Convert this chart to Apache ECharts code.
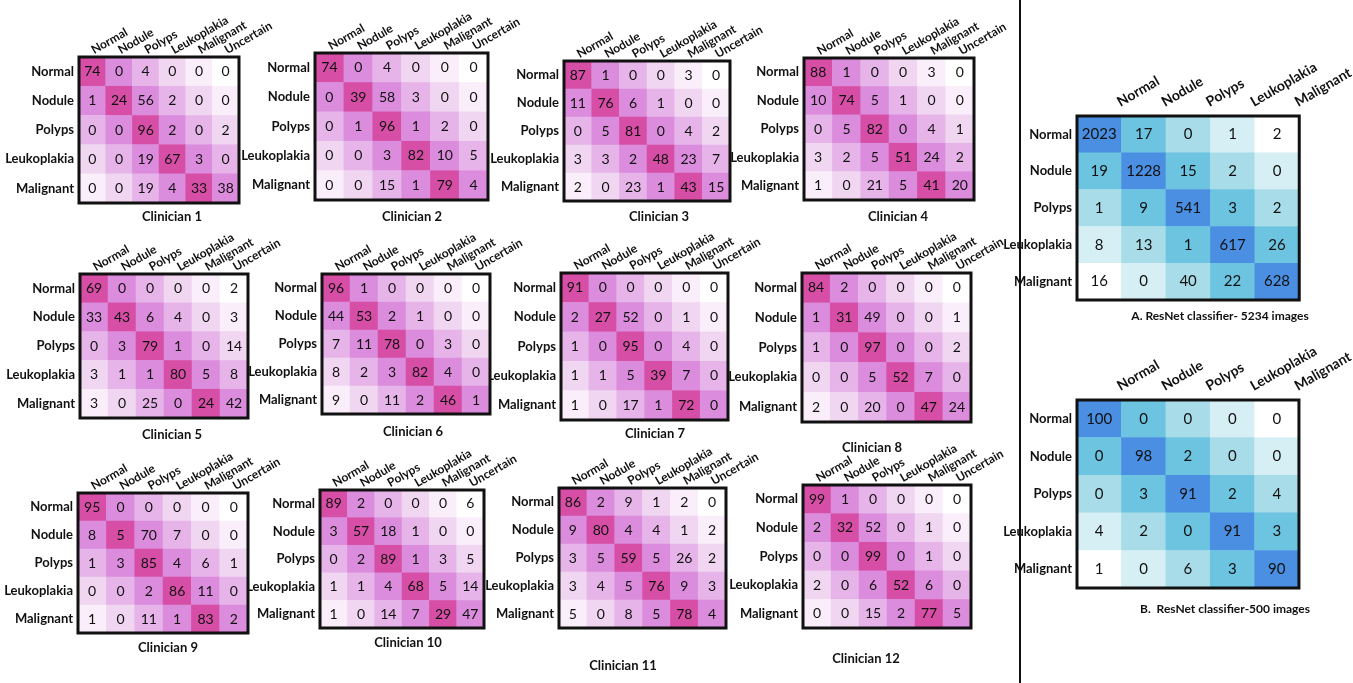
<!DOCTYPE html>
<html>
<head>
<meta charset="utf-8">
<script src="https://cdn.jsdelivr.net/npm/echarts@6/dist/echarts.min.js"></script>
<style>
  html, body { margin: 0; padding: 0; background: #fff; }
  #chart { width: 1353px; height: 683px; }
</style>
</head>
<body>
<div id="chart"></div>
<script>
// class labels
const classes5 = ["Normal", "Nodule", "Polyps", "Leukoplakia", "Malignant"];
const classes6 = ["Normal", "Nodule", "Polyps", "Leukoplakia", "Malignant", "Uncertain"];

// clinician confusion matrices (rows = true class, cols = prediction)
const clinician1 = [[74, 0, 4, 0, 0, 0], [1, 24, 56, 2, 0, 0], [0, 0, 96, 2, 0, 2], [0, 0, 19, 67, 3, 0], [0, 0, 19, 4, 33, 38]];
const clinician2 = [[74, 0, 4, 0, 0, 0], [0, 39, 58, 3, 0, 0], [0, 1, 96, 1, 2, 0], [0, 0, 3, 82, 10, 5], [0, 0, 15, 1, 79, 4]];
const clinician3 = [[87, 1, 0, 0, 3, 0], [11, 76, 6, 1, 0, 0], [0, 5, 81, 0, 4, 2], [3, 3, 2, 48, 23, 7], [2, 0, 23, 1, 43, 15]];
const clinician4 = [[88, 1, 0, 0, 3, 0], [10, 74, 5, 1, 0, 0], [0, 5, 82, 0, 4, 1], [3, 2, 5, 51, 24, 2], [1, 0, 21, 5, 41, 20]];
const clinician5 = [[69, 0, 0, 0, 0, 2], [33, 43, 6, 4, 0, 3], [0, 3, 79, 1, 0, 14], [3, 1, 1, 80, 5, 8], [3, 0, 25, 0, 24, 42]];
const clinician6 = [[96, 1, 0, 0, 0, 0], [44, 53, 2, 1, 0, 0], [7, 11, 78, 0, 3, 0], [8, 2, 3, 82, 4, 0], [9, 0, 11, 2, 46, 1]];
const clinician7 = [[91, 0, 0, 0, 0, 0], [2, 27, 52, 0, 1, 0], [1, 0, 95, 0, 4, 0], [1, 1, 5, 39, 7, 0], [1, 0, 17, 1, 72, 0]];
const clinician8 = [[84, 2, 0, 0, 0, 0], [1, 31, 49, 0, 0, 1], [1, 0, 97, 0, 0, 2], [0, 0, 5, 52, 7, 0], [2, 0, 20, 0, 47, 24]];
const clinician9 = [[95, 0, 0, 0, 0, 0], [8, 5, 70, 7, 0, 0], [1, 3, 85, 4, 6, 1], [0, 0, 2, 86, 11, 0], [1, 0, 11, 1, 83, 2]];
const clinician10 = [[89, 2, 0, 0, 0, 6], [3, 57, 18, 1, 0, 0], [0, 2, 89, 1, 3, 5], [1, 1, 4, 68, 5, 14], [1, 0, 14, 7, 29, 47]];
const clinician11 = [[86, 2, 9, 1, 2, 0], [9, 80, 4, 4, 1, 2], [3, 5, 59, 5, 26, 2], [3, 4, 5, 76, 9, 3], [5, 0, 8, 5, 78, 4]];
const clinician12 = [[99, 1, 0, 0, 0, 0], [2, 32, 52, 0, 1, 0], [0, 0, 99, 0, 1, 0], [2, 0, 6, 52, 6, 0], [0, 0, 15, 2, 77, 5]];

// ResNet classifier matrices
const resnet5234 = [[2023, 17, 0, 1, 2], [19, 1228, 15, 2, 0], [1, 9, 541, 3, 2], [8, 13, 1, 617, 26], [16, 0, 40, 22, 628]];
const resnet500 = [[100, 0, 0, 0, 0], [0, 98, 2, 0, 0], [0, 3, 91, 2, 4], [4, 2, 0, 91, 3], [1, 0, 6, 3, 90]];

const titles = [
  "Clinician 1", "Clinician 2", "Clinician 3", "Clinician 4",
  "Clinician 5", "Clinician 6", "Clinician 7", "Clinician 8",
  "Clinician 9", "Clinician 10", "Clinician 11", "Clinician 12",
  "A. ResNet classifier- 5234 images", "B.  ResNet classifier-500 images",
];
const matrices = [
  clinician1, clinician2, clinician3, clinician4,
  clinician5, clinician6, clinician7, clinician8,
  clinician9, clinician10, clinician11, clinician12,
  resnet5234, resnet500,
];

// layout: grid box [left, top, width, height] and title centre [x, y]
const layout = [
  { box: [79, 57, 160, 146], title: [167, 213] },
  { box: [315, 53, 173, 147], title: [407, 213] },
  { box: [564, 61, 166, 140], title: [654, 213] },
  { box: [804, 58, 170, 142], title: [893, 213] },
  { box: [80, 274, 168, 144], title: [167, 431] },
  { box: [322, 274, 168, 140], title: [408, 428] },
  { box: [561, 273, 167, 147], title: [650, 430] },
  { box: [802, 273, 169, 149], title: [867, 444] },
  { box: [78, 493, 170, 140], title: [163, 644] },
  { box: [320, 490, 164, 138], title: [403, 639] },
  { box: [559, 488, 167, 140], title: [618, 662] },
  { box: [803, 485, 168, 143], title: [861, 655] },
  { box: [1077, 116, 256, 184], title: [1215, 313] },
  { box: [1077, 400, 253, 188], title: [1220, 606] },
];

// shade by distance from the diagonal
const pink = ["#d64ea5", "#db8cdc", "#e6b4e8", "#f0d6f1", "#f9eefa", "#ffffff"];
const blue = ["#4a8fe2", "#6cc4e0", "#a8dce9", "#d6eff4", "#ffffff"];

const FONT = "Lato, 'Open Sans', sans-serif";

const grid = [], xAxis = [], yAxis = [], series = [], title = [];

matrices.forEach((m, k) => {
  const isResnet = k >= 12;
  const cats = m[0].length === 6 ? classes6 : classes5;
  const pal = isResnet ? blue : pink;
  const L = layout[k];
  grid.push({
    left: L.box[0], top: L.box[1], width: L.box[2], height: L.box[3],
    show: true, borderColor: "#111", borderWidth: 3,
    backgroundColor: "transparent", z: 10,
  });
  xAxis.push({
    type: "category", gridIndex: k, data: cats, position: "top",
    axisLine: { show: false }, axisTick: { show: false }, splitLine: { show: false },
    axisLabel: {
      interval: 0, rotate: -30, margin: isResnet ? 2 : 6, color: "#111",
      padding: isResnet ? [0, 0, 0, 22] : 0,
      fontFamily: FONT, fontWeight: "bold", fontSize: isResnet ? 14 : 12,
    },
  });
  yAxis.push({
    type: "category", gridIndex: k, data: classes5, inverse: true,
    axisLine: { show: false }, axisTick: { show: false }, splitLine: { show: false },
    axisLabel: {
      margin: 5, color: "#111",
      fontFamily: FONT, fontWeight: "bold", fontSize: 13,
    },
  });
  const data = [];
  m.forEach((row, i) => row.forEach((v, j) => {
    data.push({ value: [j, i, v], itemStyle: { color: pal[Math.abs(i - j)] } });
  }));
  series.push({
    type: "heatmap", xAxisIndex: k, yAxisIndex: k, data,
    label: {
      show: true, formatter: (p) => p.value[2], color: "#111",
      fontFamily: FONT, fontSize: isResnet ? 15 : 14,
    },
    emphasis: { disabled: true },
    animation: false,
  });
  title.push({
    text: titles[k], left: L.title[0], top: L.title[1] - 8, textAlign: "center",
    textStyle: { fontFamily: FONT, fontWeight: "bold", fontSize: isResnet ? 12 : 13, color: "#111" },
  });
});

const chart = echarts.init(document.getElementById("chart"), null, { renderer: "canvas" });
chart.setOption({
  animation: false,
  backgroundColor: "#fff",
  title, grid, xAxis, yAxis, series,
  graphic: [{
    type: "line",
    shape: { x1: 1020, y1: 0, x2: 1020, y2: 683 },
    style: { stroke: "#111", lineWidth: 2 },
  }],
});
</script>
</body>
</html>
